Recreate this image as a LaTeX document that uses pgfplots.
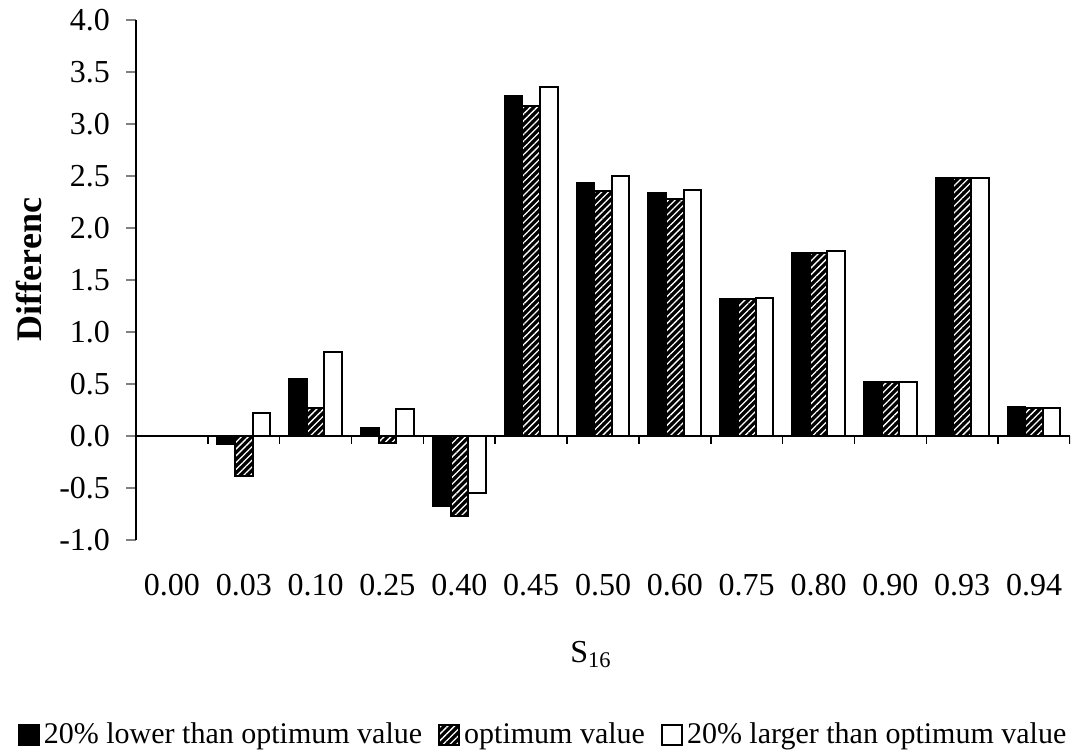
\documentclass[border=0pt]{standalone}
\usepackage{pgfplots}
\pgfplotsset{compat=1.18}
\usepackage{pgfplotstable}
\usepackage{fontspec}
\setmainfont{Liberation Serif}
\usetikzlibrary{patterns.meta}

% Difference for each S16 level: 20% below optimum, optimum, 20% above optimum
\pgfplotstableread{
idx   low    opt    high
0     0.00   0.00   0.00
1    -0.08  -0.38   0.22
2     0.55   0.27   0.81
3     0.08  -0.07   0.26
4    -0.67  -0.77  -0.55
5     3.27   3.17   3.36
6     2.43   2.36   2.50
7     2.34   2.28   2.37
8     1.32   1.32   1.33
9     1.76   1.76   1.78
10    0.52   0.52   0.52
11    2.48   2.48   2.48
12    0.28   0.27   0.27
}\diffdata

\begin{document}
\begin{tikzpicture}
\useasboundingbox (-68pt,-106.5pt) rectangle (469.5pt,270pt);
\begin{axis}[
  at={(0,0)}, anchor=south west,
  scale only axis, width=467pt, height=260pt,
  font=\fontsize{16}{19}\selectfont,
  ybar=0pt, bar width=0.245,
  xmin=-0.5, xmax=12.5, ymin=-1, ymax=4,
  axis y line*=left, axis x line*=bottom,
  x axis line style={draw=none},
  y axis line style={line width=0.8pt},
  xtick={0,...,12},
  xticklabels={0.00,0.03,0.10,0.25,0.40,0.45,0.50,0.60,0.75,0.80,0.90,0.93,0.94},
  xtick style={draw=none},
  ytick={-1,-0.5,...,4},
  ytick style={line width=0.8pt},
  tick align=outside, major tick length=5pt,
  /pgf/number format/fixed, /pgf/number format/fixed zerofill,
  /pgf/number format/precision=1, /pgf/number format/assume math mode=true,
  y tick label style={xshift=-4.5pt},
  x tick label style={yshift=-8.5pt},
  ylabel={\bfseries\fontsize{18}{21}\selectfont Differenc},
  ylabel style={at={(axis description cs:-0.115,0.52)}, anchor=center},
  xlabel={S\textsubscript{16}},
  xlabel style={at={(axis description cs:0.487,-0.221)}, anchor=center},
  legend columns=3,
  legend style={at={(axis description cs:0.437,-0.375)}, anchor=center, draw=none,
    fill=none, inner sep=0pt, font=\fontsize{15}{18}\selectfont,
    /tikz/every even column/.append style={column sep=6pt}},
  legend image code/.code={\draw[#1] (0pt,-5pt) rectangle (10pt,5pt);},
]
\addplot[fill=black, draw=black, line width=1pt] table[x=idx, y=low] {\diffdata};
\addplot[preaction={fill=black}, pattern={Lines[angle=45,distance=2.4pt,line width=0.65pt]},
  pattern color=white, draw=black, line width=1pt] table[x=idx, y=opt] {\diffdata};
\addplot[fill=white, draw=black, line width=1pt] table[x=idx, y=high] {\diffdata};
\legend{20\% lower than optimum value, optimum value, 20\% larger than optimum value}
% baseline at zero with small marks between the S16 groups
\draw[line width=0.8pt] (axis cs:-0.5,0) -- (axis cs:12.5,0);
\pgfplotsinvokeforeach{0.5,1.5,...,12.5}{\draw[line width=0.8pt] (axis cs:#1,0) -- ([yshift=-4pt]axis cs:#1,0);}
\end{axis}
\end{tikzpicture}
\end{document}
